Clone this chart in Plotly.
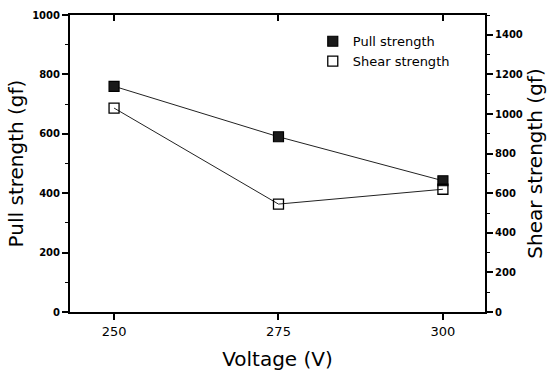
import plotly.graph_objects as go

voltage = [250, 275, 300]
pull_strength = [760, 590, 442]
shear_strength = [1030, 545, 620]
x_ticks = [250, 275, 300]
left_ticks = [0, 200, 400, 600, 800, 1000]
right_ticks = [0, 200, 400, 600, 800, 1000, 1200, 1400]

FONT = "DejaVu Sans"

fig = go.Figure()

# data traces
fig.add_trace(go.Scatter(
    x=voltage, y=pull_strength, mode="lines+markers", name="Pull strength",
    line=dict(color="#222222", width=1),
    marker=dict(symbol="square", size=10, color="#1a1a1a", line=dict(color="#000000", width=1.2)),
    showlegend=False, yaxis="y", xaxis="x"))
fig.add_trace(go.Scatter(
    x=voltage, y=shear_strength, mode="lines+markers", name="Shear strength",
    line=dict(color="#222222", width=1),
    marker=dict(symbol="square-open", size=10, color="#000000", line=dict(width=1.3)),
    showlegend=False, yaxis="y2", xaxis="x"))

# legend-only entries (marker only)
fig.add_trace(go.Scatter(
    x=[None], y=[None], mode="markers", name="Pull strength",
    marker=dict(symbol="square", size=10, color="#1a1a1a", line=dict(color="#000000", width=1.2))))
fig.add_trace(go.Scatter(
    x=[None], y=[None], mode="markers", name="Shear strength",
    marker=dict(symbol="square-open", size=10, color="#000000", line=dict(width=1.3))))

# dummy trace so the top (inward-tick) axis is drawn
fig.add_trace(go.Scatter(x=[None], y=[None], xaxis="x2", yaxis="y",
                         showlegend=False, hoverinfo="skip"))

xr = [243.3, 306.4]

fig.update_layout(
    width=550, height=375,
    margin=dict(l=70, r=65, t=15, b=63, autoexpand=False),
    paper_bgcolor="white", plot_bgcolor="white",
    font=dict(family=FONT, color="#000000"),
    showlegend=True,
    legend=dict(x=0.585, y=0.962, xanchor="left", yanchor="top",
                font=dict(family=FONT, size=13, color="#000000"),
                bgcolor="rgba(0,0,0,0)", tracegroupgap=0),
    xaxis=dict(
        range=xr, tickvals=x_ticks, ticktext=[str(v) for v in x_ticks],
        ticks="outside", ticklen=6, tickwidth=1.5, tickcolor="#000",
        showline=True, linecolor="#000", linewidth=2, mirror=True,
        showgrid=False, zeroline=False, automargin=False,
        tickfont=dict(family=FONT, size=13, color="#000"),
        title=dict(text="Voltage (V)", font=dict(family=FONT, size=20, color="#000"), standoff=14),
    ),
    xaxis2=dict(
        range=xr, tickvals=x_ticks, overlaying="x", side="top", anchor="y",
        ticks="inside", ticklen=6, tickwidth=1.5, tickcolor="#000", automargin=False,
        showticklabels=False, showline=False, showgrid=False, zeroline=False,
    ),
    yaxis=dict(
        range=[0, 1000], tickvals=left_ticks,
        ticks="outside", ticklen=6, tickwidth=1.5, tickcolor="#000",
        minor=dict(dtick=100, tick0=0, ticks="outside", ticklen=3, tickwidth=1.2, tickcolor="#000"),
        showline=True, linecolor="#000", linewidth=2,
        showgrid=False, zeroline=False, automargin=False,
        tickfont=dict(family=FONT, size=10, color="#000", weight="bold"),
        title=dict(text="Pull strength (gf)", font=dict(family=FONT, size=20, color="#000"), standoff=3),
    ),
    yaxis2=dict(
        range=[0, 1500], tickvals=right_ticks, overlaying="y", side="right", anchor="x",
        ticks="outside", ticklen=6, tickwidth=1.5, tickcolor="#000",
        minor=dict(dtick=100, tick0=0, ticks="outside", ticklen=3, tickwidth=1.2, tickcolor="#000"),
        showline=True, linecolor="#000", linewidth=2,
        showgrid=False, zeroline=False, automargin=False,
        tickfont=dict(family=FONT, size=10, color="#000", weight="bold"),
        title=dict(text="Shear strength (gf)", font=dict(family=FONT, size=20, color="#000"), standoff=5),
    ),
)

fig.write_html("out.html", config={"displayModeBar": False},
               post_script="document.body.style.margin='0';document.body.style.overflow='hidden';")
